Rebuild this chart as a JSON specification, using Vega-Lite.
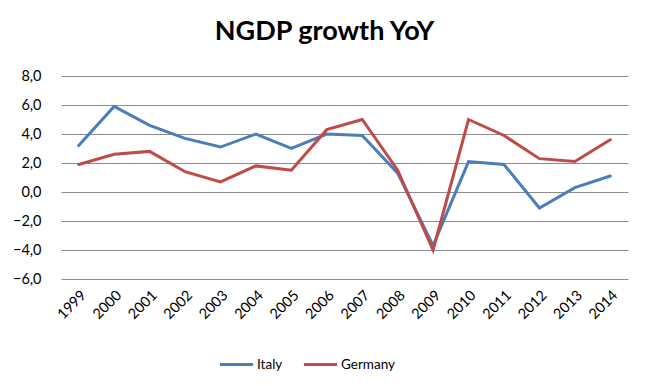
{
  "$schema": "https://vega.github.io/schema/vega-lite/v6.json",
  "width": 567,
  "height": 203,
  "autosize": {"type": "none"},
  "padding": {"left": 61, "top": 76, "right": 22, "bottom": 107},
  "background": "white",
  "title": {
    "text": "NGDP growth YoY",
    "font": "Lato",
    "fontSize": 27,
    "fontWeight": "bold",
    "color": "#000000",
    "anchor": "middle",
    "dx": -20,
    "offset": 22
  },
  "data": {
    "values": [
      {"year": "1999", "country": "Italy", "value": 3.2},
      {"year": "2000", "country": "Italy", "value": 5.9},
      {"year": "2001", "country": "Italy", "value": 4.6},
      {"year": "2002", "country": "Italy", "value": 3.7},
      {"year": "2003", "country": "Italy", "value": 3.1},
      {"year": "2004", "country": "Italy", "value": 4.0},
      {"year": "2005", "country": "Italy", "value": 3.0},
      {"year": "2006", "country": "Italy", "value": 4.0},
      {"year": "2007", "country": "Italy", "value": 3.9},
      {"year": "2008", "country": "Italy", "value": 1.3},
      {"year": "2009", "country": "Italy", "value": -3.7},
      {"year": "2010", "country": "Italy", "value": 2.1},
      {"year": "2011", "country": "Italy", "value": 1.9},
      {"year": "2012", "country": "Italy", "value": -1.1},
      {"year": "2013", "country": "Italy", "value": 0.3},
      {"year": "2014", "country": "Italy", "value": 1.1},
      {"year": "1999", "country": "Germany", "value": 1.9},
      {"year": "2000", "country": "Germany", "value": 2.6},
      {"year": "2001", "country": "Germany", "value": 2.8},
      {"year": "2002", "country": "Germany", "value": 1.4},
      {"year": "2003", "country": "Germany", "value": 0.7},
      {"year": "2004", "country": "Germany", "value": 1.8},
      {"year": "2005", "country": "Germany", "value": 1.5},
      {"year": "2006", "country": "Germany", "value": 4.3},
      {"year": "2007", "country": "Germany", "value": 5.0},
      {"year": "2008", "country": "Germany", "value": 1.5},
      {"year": "2009", "country": "Germany", "value": -4.0},
      {"year": "2010", "country": "Germany", "value": 5.0},
      {"year": "2011", "country": "Germany", "value": 3.9},
      {"year": "2012", "country": "Germany", "value": 2.3},
      {"year": "2013", "country": "Germany", "value": 2.1},
      {"year": "2014", "country": "Germany", "value": 3.6}
    ]
  },
  "mark": {"type": "line", "strokeWidth": 3, "strokeCap": "round"},
  "encoding": {
    "x": {
      "field": "year",
      "type": "ordinal",
      "scale": {"type": "point", "padding": 0.5},
      "axis": {
        "title": null,
        "labelAngle": -45,
        "labelAlign": "right",
        "labelBaseline": "top",
        "labelPadding": 9,
        "labelFont": "Lato",
        "labelFontSize": 14.5,
        "labelColor": "#000000",
        "ticks": false,
        "domain": false,
        "grid": false
      }
    },
    "y": {
      "field": "value",
      "type": "quantitative",
      "scale": {"domain": [-6, 8], "nice": false, "zero": false},
      "axis": {
        "title": null,
        "values": [-6, -4, -2, 0, 2, 4, 6, 8],
        "labelExpr": "replace(format(datum.value, '.1f'), '.', ',')",
        "labelFont": "Lato",
        "labelFontSize": 14.5,
        "labelColor": "#000000",
        "labelPadding": 20,
        "ticks": false,
        "domain": false,
        "grid": true,
        "gridColor": "#8c8c8c",
        "gridWidth": 1
      }
    },
    "color": {
      "field": "country",
      "type": "nominal",
      "scale": {"domain": ["Italy", "Germany"], "range": ["#4a7ebb", "#be4b48"]},
      "legend": {
        "title": null,
        "orient": "none",
        "legendX": 157,
        "legendY": 270,
        "direction": "horizontal",
        "symbolType": "stroke",
        "symbolStrokeWidth": 3,
        "symbolSize": 1100,
        "labelFont": "Lato",
        "labelFontSize": 13.5,
        "labelColor": "#000000",
        "labelOffset": 2,
        "columnPadding": 14
      }
    }
  },
  "config": {"view": {"stroke": null}}
}
